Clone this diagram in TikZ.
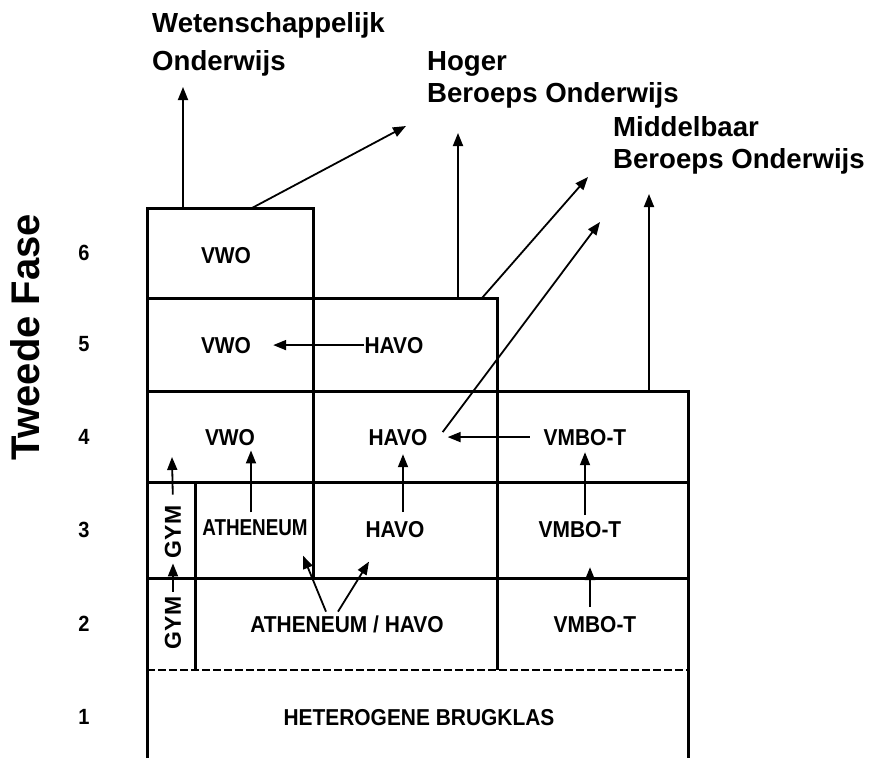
\documentclass[tikz,border=0pt]{standalone}
\usepackage{fontspec}
\setmainfont{Liberation Sans}
\newfontfamily\narrowfont{Liberation Sans}[FakeStretch=0.91]
\usetikzlibrary{arrows.meta}

\tikzset{
  grid/.style={line width=3pt},
  dashline/.style={line width=2.5pt,dash pattern={on 8pt off 3pt}},
  arr/.style={line width=1.8pt,-{Triangle[length=13pt,width=10pt]}},
  lbl/.style={font=\narrowfont\bfseries\fontsize{23}{27}\selectfont,inner sep=0pt,anchor=base},
  num/.style={font=\narrowfont\bfseries\fontsize{22}{26}\selectfont,inner sep=0pt},
  gym/.style={font=\bfseries\fontsize{23}{27}\selectfont,inner sep=0pt,rotate=90},
  head/.style={font=\bfseries\fontsize{27.6}{32}\selectfont,inner sep=0pt,anchor=north west,align=left},
}

\begin{document}
\begin{tikzpicture}[x=1pt,y=1pt,yscale=-1]
\useasboundingbox (0,0) rectangle (873,758);

%Schema lines
\draw[grid] (147,758) -- (147,208) -- (313,208) -- (313,578);
\draw[grid] (147,298) -- (497,298) -- (497,670);
\draw[grid] (147,391) -- (688,391) -- (688,758);
\draw[grid] (147,482) -- (688,482);
\draw[grid] (147,578) -- (688,578);
\draw[grid] (195,482) -- (195,670);
\draw[dashline] (147,670) -- (688,670);

% Tweede Fase + leerjaren
\node[font=\bfseries\fontsize{40}{44}\selectfont,inner sep=0pt,rotate=90] (fase) at (25,337) {Tweede Fase};
\node[num] (jr6) at (84,253) {6};
\node[num] (jr5) at (84,344) {5};
\node[num] (jr4) at (84,437) {4};
\node[num] (jr3) at (84,530) {3};
\node[num] (jr2) at (84,624) {2};
\node[num] (jr1) at (84,717) {1};

% Vervolgopleidingen
\node[head] (wo) at (152,12.2) {Wetenschappelijk\\[6pt]Onderwijs};
\node[head] (hbo) at (427,51.2) {Hoger\\Beroeps Onderwijs};
\node[head] (mbo) at (613,116.2) {Middelbaar\\Beroeps Onderwijs};

% Text Nodes
\node[lbl] (vwo6) at (226,263) {VWO};
\node[lbl] (vwo5) at (226,353) {VWO};
\node[lbl] (havo5) at (394,353) {HAVO};
\node[lbl] (vwo4) at (230,445) {VWO};
\node[lbl] (havo4) at (398,445) {HAVO};
\node[lbl] (vmbo4) at (585,445) {VMBO-T};
\node[lbl] (ath3) at (255,535) {\scalebox{0.9}[1]{ATHENEUM}};
\node[lbl] (havo3) at (395,537) {HAVO};
\node[lbl] (vmbo3) at (580,537) {VMBO-T};
\node[lbl] (athhavo) at (347,632) {ATHENEUM / HAVO};
\node[lbl] (vmbo2) at (595,632) {VMBO-T};
\node[lbl] (brug) at (419,725) {HETEROGENE BRUGKLAS};
\node[gym] (gym3) at (173,532) {GYM};
\node[gym] (gym2) at (173,623) {GYM};

% Free ends
\coordinate (wostart) at (183,208);
\coordinate (wotip) at (183,87);
\coordinate (hbostartA) at (252,208);
\coordinate (hbotipA) at (406,126);
\coordinate (hbostartB) at (458,298);
\coordinate (hbotipB) at (458,133);
\coordinate (mbostartA) at (482,298);
\coordinate (mbotipA) at (588,177);
\coordinate (mbotipB) at (600,222);
\coordinate (mbostartC) at (649,391);
\coordinate (mbotipC) at (649,194);
\coordinate (gymtip) at (172,457);

% Arrows
\draw[arr] (wostart) -- (wotip);
\draw[arr] (hbostartA) -- (hbotipA);
\draw[arr] (hbostartB) -- (hbotipB);
\draw[arr] (mbostartA) -- (mbotipA);
\draw[arr] (mbostartC) -- (mbotipC);
\draw[arr] (havo4.east) ++(15,-5) -- (mbotipB);
\draw[arr,shorten >=22pt] (havo5.west) -- (vwo5.east);
\draw[arr,shorten <=14pt,shorten >=20pt] (vmbo4.west) -- (havo4.east);
\draw[arr] (ath3.north) ++(-4,-6.5) -- ++(0,-62);
\draw[arr] (havo3.north) ++(8,-8.5) -- ++(0,-58);
\draw[arr] (vmbo3.north) ++(5,-5.5) -- ++(0,-63);
\draw[arr] (vmbo2.north) ++(-5,-8.5) -- ++(0,-40);
\draw[arr] (athhavo.north) ++(-21,-3.5) -- ++(-23,-56);
\draw[arr] (athhavo.north) ++(-9,-3.5) -- ++(31,-50);
\draw[arr,shorten <=5pt,shorten >=5pt] (gym2.east) -- (gym3.west);
\draw[arr,shorten <=11pt] (gym3.east) -- (gymtip);

\end{tikzpicture}
\end{document}
